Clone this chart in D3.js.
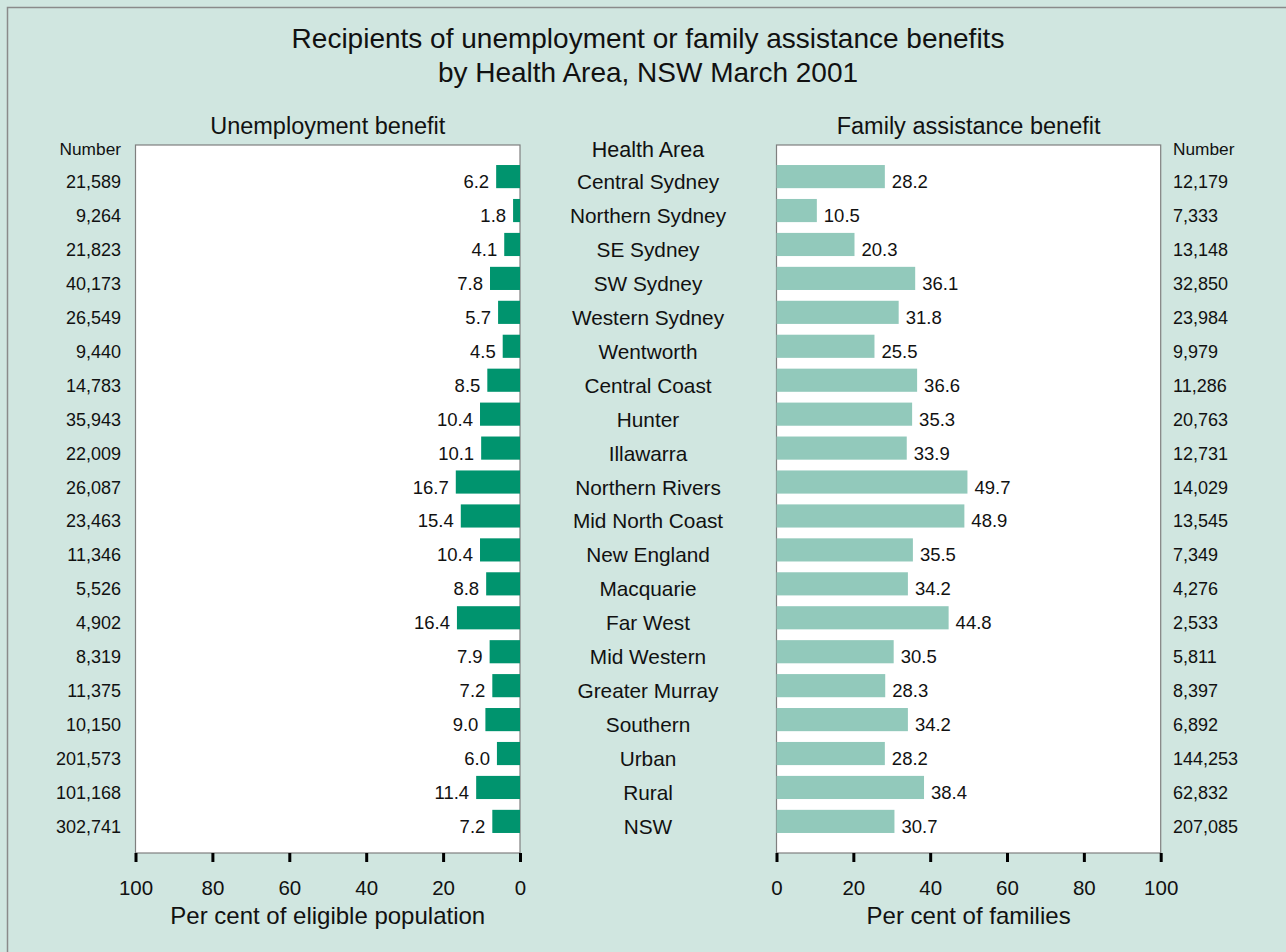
<!DOCTYPE html>
<html>
<head>
<meta charset="utf-8">
<script src="https://cdn.jsdelivr.net/npm/d3@7"></script>
<style>
  html, body { margin: 0; padding: 0; background: #d0e6e0; }
  svg { display: block; font-family: "Liberation Sans", Arial, sans-serif; }
</style>
</head>
<body>
<svg id="chart" width="1286" height="952"></svg>
<script>
// Health areas, top to bottom
const areas = [
  "Central Sydney", "Northern Sydney", "SE Sydney", "SW Sydney", "Western Sydney",
  "Wentworth", "Central Coast", "Hunter", "Illawarra", "Northern Rivers",
  "Mid North Coast", "New England", "Macquarie", "Far West", "Mid Western",
  "Greater Murray", "Southern", "Urban", "Rural", "NSW"
];

// Unemployment benefit: per cent of eligible population, and number of recipients
const unempPct = [6.2, 1.8, 4.1, 7.8, 5.7, 4.5, 8.5, 10.4, 10.1, 16.7, 15.4, 10.4, 8.8, 16.4, 7.9, 7.2, 9.0, 6.0, 11.4, 7.2];
const unempNum = [21589, 9264, 21823, 40173, 26549, 9440, 14783, 35943, 22009, 26087, 23463, 11346, 5526, 4902, 8319, 11375, 10150, 201573, 101168, 302741];

// Family assistance benefit: per cent of families, and number of recipients
const famPct = [28.2, 10.5, 20.3, 36.1, 31.8, 25.5, 36.6, 35.3, 33.9, 49.7, 48.9, 35.5, 34.2, 44.8, 30.5, 28.3, 34.2, 28.2, 38.4, 30.7];
const famNum = [12179, 7333, 13148, 32850, 23984, 9979, 11286, 20763, 12731, 14029, 13545, 7349, 4276, 2533, 5811, 8397, 6892, 144253, 62832, 207085];

const xTicks = [0, 20, 40, 60, 80, 100];

const svg = d3.select("#chart");
const W = 1286, H = 952;

// Panel geometry
const plotTop = 145, plotBottom = 853;
const leftX0 = 135.5, leftX1 = 520;
const rightX0 = 776.5, rightX1 = 1160.7;
const midX = 648;

const fmt = d3.format(",");

// Outer frame
svg.append("rect")
  .attr("x", 7.5).attr("y", 7.5)
  .attr("width", W + 20).attr("height", H + 20)
  .attr("fill", "#d0e6e0")
  .attr("stroke", "#8a8a8a").attr("stroke-width", 1.5);

// Scales
const y = d3.scaleBand().domain(areas).range([plotTop, plotBottom])
  .paddingInner(0.318).paddingOuter(0.59);
const xL = d3.scaleLinear().domain([0, 100]).range([leftX1, leftX0]);
const xR = d3.scaleLinear().domain([0, 100]).range([rightX0, rightX1]);

// Plot backgrounds
[[leftX0, leftX1], [rightX0, rightX1]].forEach(([a, b]) => {
  svg.append("rect")
    .attr("x", a).attr("y", plotTop)
    .attr("width", b - a).attr("height", plotBottom - plotTop)
    .attr("fill", "#ffffff")
    .attr("stroke", "#7f7f7f").attr("stroke-width", 1.2);
});

// Bars
svg.append("g").selectAll("rect").data(areas).join("rect")
  .attr("x", (d, i) => xL(unempPct[i]))
  .attr("y", d => y(d))
  .attr("width", (d, i) => xL(0) - xL(unempPct[i]))
  .attr("height", y.bandwidth())
  .attr("fill", "#00946e");

svg.append("g").selectAll("rect").data(areas).join("rect")
  .attr("x", xR(0))
  .attr("y", d => y(d))
  .attr("width", (d, i) => xR(famPct[i]) - xR(0))
  .attr("height", y.bandwidth())
  .attr("fill", "#92c9bb");

const rowBase = d => y(d) + y.bandwidth() / 2 + 11.5;

// Value labels
svg.append("g").selectAll("text").data(areas).join("text")
  .attr("x", (d, i) => xL(unempPct[i]) - 7)
  .attr("y", rowBase)
  .attr("text-anchor", "end")
  .attr("font-size", 18.5)
  .attr("fill", "#111")
  .text((d, i) => unempPct[i].toFixed(1));

svg.append("g").selectAll("text").data(areas).join("text")
  .attr("x", (d, i) => xR(famPct[i]) + 7)
  .attr("y", rowBase)
  .attr("font-size", 18.5)
  .attr("fill", "#111")
  .text((d, i) => famPct[i].toFixed(1));

// Area names in the centre column
svg.append("text")
  .attr("x", midX).attr("y", 157)
  .attr("text-anchor", "middle").attr("font-size", 21.5).attr("fill", "#111")
  .text("Health Area");
svg.append("g").selectAll("text").data(areas).join("text")
  .attr("x", midX)
  .attr("y", d => rowBase(d) + 1)
  .attr("text-anchor", "middle")
  .attr("font-size", 20.8)
  .attr("fill", "#111")
  .text(d => d);

// Number columns
svg.append("text")
  .attr("x", 121).attr("y", 155)
  .attr("text-anchor", "end").attr("font-size", 17.3).attr("fill", "#111")
  .text("Number");
svg.append("g").selectAll("text").data(areas).join("text")
  .attr("x", 121)
  .attr("y", rowBase)
  .attr("text-anchor", "end")
  .attr("font-size", 18)
  .attr("fill", "#111")
  .text((d, i) => fmt(unempNum[i]));

svg.append("text")
  .attr("x", 1173).attr("y", 155)
  .attr("font-size", 17.3).attr("fill", "#111")
  .text("Number");
svg.append("g").selectAll("text").data(areas).join("text")
  .attr("x", 1173)
  .attr("y", rowBase)
  .attr("font-size", 18)
  .attr("fill", "#111")
  .text((d, i) => fmt(famNum[i]));

// Axes
function drawAxis(scale) {
  const g = svg.append("g").attr("transform", `translate(0,${plotBottom})`)
    .call(d3.axisBottom(scale).tickValues(xTicks).tickSize(9).tickPadding(18).tickSizeOuter(0));
  g.select(".domain").remove();
  g.selectAll(".tick line").attr("stroke", "#000").attr("stroke-width", 3);
  g.selectAll(".tick text")
    .attr("font-size", 20.5)
    .attr("font-family", "Liberation Sans, Arial, sans-serif")
    .attr("fill", "#111");
}
drawAxis(xL);
drawAxis(xR);

// Axis titles
svg.append("text")
  .attr("x", (leftX0 + leftX1) / 2).attr("y", 924)
  .attr("text-anchor", "middle").attr("font-size", 24).attr("fill", "#111")
  .text("Per cent of eligible population");
svg.append("text")
  .attr("x", (rightX0 + rightX1) / 2).attr("y", 924)
  .attr("text-anchor", "middle").attr("font-size", 24).attr("fill", "#111")
  .text("Per cent of families");

// Panel titles
svg.append("text")
  .attr("x", (leftX0 + leftX1) / 2).attr("y", 134)
  .attr("text-anchor", "middle").attr("font-size", 23.5).attr("fill", "#111")
  .text("Unemployment benefit");
svg.append("text")
  .attr("x", (rightX0 + rightX1) / 2).attr("y", 134)
  .attr("text-anchor", "middle").attr("font-size", 23.5).attr("fill", "#111")
  .text("Family assistance benefit");

// Chart title
svg.append("text")
  .attr("x", midX).attr("y", 48)
  .attr("text-anchor", "middle").attr("font-size", 28).attr("fill", "#111")
  .text("Recipients of unemployment or family assistance benefits");
svg.append("text")
  .attr("x", midX).attr("y", 82)
  .attr("text-anchor", "middle").attr("font-size", 28).attr("fill", "#111")
  .text("by Health Area, NSW March 2001");
</script>
</body>
</html>
